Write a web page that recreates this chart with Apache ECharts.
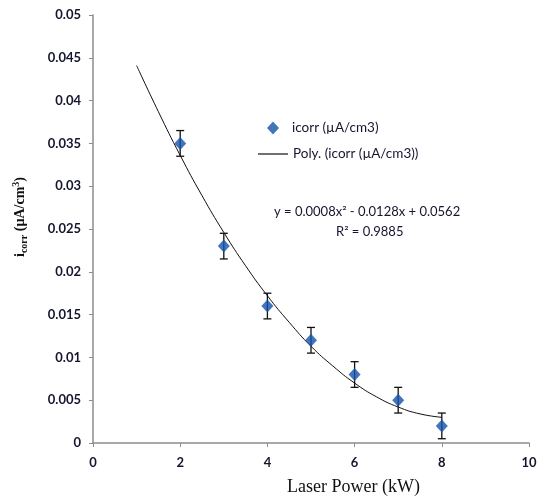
<!DOCTYPE html>
<html>
<head>
<meta charset="utf-8">
<script src="https://cdn.jsdelivr.net/npm/echarts@6/dist/echarts.min.js"></script>
<style>html,body{margin:0;padding:0;background:#fff;}#c{width:540px;height:497px;}</style>
</head>
<body>
<div id="c"></div>
<script>
// Data
var laserPower = [2, 3, 4, 5, 6, 7, 8];
var icorr = [0.035, 0.023, 0.016, 0.012, 0.008, 0.005, 0.002];
var errPlus = [0.0015, 0.0015, 0.0015, 0.0015, 0.0015, 0.0015, 0.0015];
// Polynomial trendline as drawn (x from 1 to 8)
var trendX = [1, 1.5, 2, 2.5, 3, 3.5, 4, 4.5, 5, 5.5, 6, 6.5, 7, 7.5, 8];
var trendY = [0.0441, 0.0387, 0.0336, 0.0289, 0.0246, 0.0207, 0.0172, 0.0141, 0.0113, 0.0090, 0.0070, 0.0054, 0.0042, 0.0034, 0.0030];
var xTicks = [0, 2, 4, 6, 8, 10];
var yTicks = [0, 0.005, 0.01, 0.015, 0.02, 0.025, 0.03, 0.035, 0.04, 0.045, 0.05];

var scatterName = 'icorr (\u00b5A/cm3)';
var trendName = 'Poly. (icorr (\u00b5A/cm3))';

var chart = echarts.init(document.getElementById('c'));
var axisCol = '#8c8c8c';
var labelCol = '#15152e';
var serifStyle = { fontFamily: 'Liberation Serif', fontWeight: 'bold', color: '#111' };

var errData = laserPower.map(function (x, i) { return [x, icorr[i] - errPlus[i], icorr[i] + errPlus[i]]; });

chart.setOption({
  animation: false,
  backgroundColor: '#fff',
  grid: { left: 93, right: 11, top: 15, bottom: 54 },
  legend: [
    {
      left: 262, top: 116,
      itemWidth: 12, itemHeight: 13,
      textStyle: { fontFamily: 'Lato', fontSize: 13.5, color: labelCol, padding: [0, 0, 0, 8] },
      data: [{ name: scatterName, icon: 'diamond' }]
    },
    {
      left: 253, top: 142,
      itemWidth: 30, itemHeight: 1.2,
      textStyle: { fontFamily: 'Lato', fontSize: 13.5, color: labelCol },
      data: [{ name: trendName, icon: 'rect' }]
    }
  ],
  xAxis: {
    type: 'value', min: 0, max: 10, interval: 2,
    axisLine: { lineStyle: { color: axisCol, width: 1.5 } },
    axisTick: { show: true, length: 4, lineStyle: { color: axisCol } },
    splitLine: { show: false },
    axisLabel: { margin: 13, fontFamily: 'Lato', fontWeight: 'bold', fontSize: 13, color: labelCol }
  },
  yAxis: {
    type: 'value', min: 0, max: 0.05, interval: 0.005,
    axisLine: { show: true, lineStyle: { color: axisCol, width: 1.5 } },
    axisTick: { show: true, length: 4, lineStyle: { color: axisCol } },
    splitLine: { show: false },
    axisLabel: { margin: 12, fontFamily: 'Lato', fontWeight: 'bold', fontSize: 13, color: labelCol,
      formatter: function (v) { return String(+v.toFixed(3)); } },
    name: '{m|i}{s|corr}{m| (\u00b5A/cm}{p|3}{m|)}', nameLocation: 'middle', nameGap: 66, nameRotate: 90,
    nameTextStyle: {
      padding: [0, 0, 0, 24],
      rich: {
        m: Object.assign({ fontSize: 14, lineHeight: 16, verticalAlign: 'bottom' }, serifStyle),
        s: Object.assign({ fontSize: 10, lineHeight: 16, verticalAlign: 'bottom', padding: [0, 0, -2, 0] }, serifStyle),
        p: Object.assign({ fontSize: 10, lineHeight: 16, verticalAlign: 'top' }, serifStyle)
      }
    }
  },
  graphic: [
    { type: 'text', left: 274, top: 205, style: { text: 'y = 0.0008x\u00b2 - 0.0128x + 0.0562', fontFamily: 'Lato', fontSize: 13, fill: labelCol } },
    { type: 'text', left: 336, top: 225, style: { text: 'R\u00b2 = 0.9885', fontFamily: 'Lato', fontSize: 13, fill: labelCol } },
    { type: 'text', left: 287, top: 478, style: { text: 'Laser Power (kW)', fontFamily: 'Liberation Serif', fontSize: 18, fill: '#111' } }
  ],
  series: [
    {
      name: 'err', type: 'custom', z: 2,
      data: errData,
      renderItem: function (params, api) {
        var x = api.value(0);
        var lo = api.coord([x, api.value(1)]);
        var hi = api.coord([x, api.value(2)]);
        var w = 4;
        var st = { stroke: '#111', lineWidth: 1.3 };
        return { type: 'group', children: [
          { type: 'line', shape: { x1: lo[0], y1: lo[1], x2: hi[0], y2: hi[1] }, style: st },
          { type: 'line', shape: { x1: lo[0] - w, y1: lo[1], x2: lo[0] + w, y2: lo[1] }, style: st },
          { type: 'line', shape: { x1: hi[0] - w, y1: hi[1], x2: hi[0] + w, y2: hi[1] }, style: st }
        ] };
      }
    },
    {
      name: trendName, type: 'line', smooth: true, symbol: 'none', z: 3,
      lineStyle: { color: '#111', width: 1 }, itemStyle: { color: '#111' },
      data: trendX.map(function (x, i) { return [x, trendY[i]]; })
    },
    {
      name: scatterName, type: 'scatter', symbol: 'diamond', symbolSize: [12, 13], z: 4,
      itemStyle: { color: '#1452ad' },
      data: laserPower.map(function (x, i) { return [x, icorr[i]]; })
    }
  ]
});
</script>
</body>
</html>
